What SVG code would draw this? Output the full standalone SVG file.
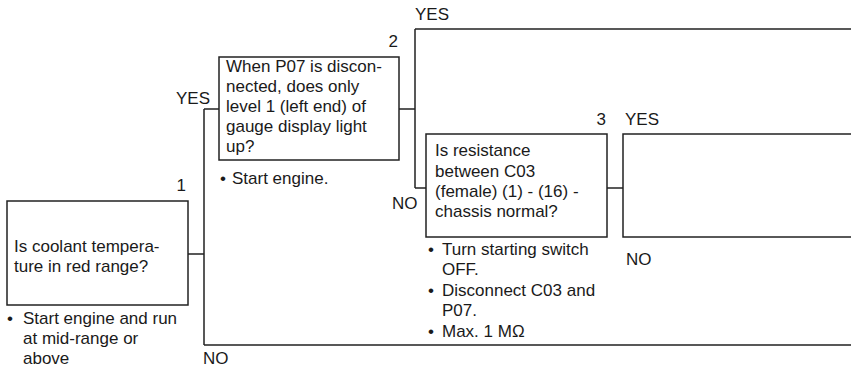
<svg xmlns="http://www.w3.org/2000/svg" width="851" height="370" viewBox="0 0 851 370">
<style>
text{font-family:"Liberation Sans",Arial,sans-serif;font-size:17px;fill:#1a1a1a}
.box{fill:#fff;stroke:#222;stroke-width:1.5}
.ln{fill:none;stroke:#222;stroke-width:1.5}
</style>
<rect width="851" height="370" fill="#fff"/>
<g id="connectors">
<path class="ln" d="M188,254H204M204,109V345M204,109H219M204,345H851"/>
<path class="ln" d="M399,109H415M415,29V188M415,29H851M415,188H426"/>
<path class="ln" d="M607,188H623"/>
<text x="176" y="104">YES</text>
<text x="203" y="364">NO</text>
<text x="415" y="20">YES</text>
<text x="392" y="209">NO</text>
<text x="625" y="125">YES</text>
<text x="626" y="265">NO</text>
</g>
<g id="node1">
<rect class="box" x="7" y="201" width="181" height="104"/>
<text x="186" y="191" text-anchor="end">1</text>
<text x="14" y="252">Is coolant tempera-</text>
<text x="14" y="272">ture in red range?</text>
<text x="7" y="324">•</text>
<text x="23" y="324">Start engine and run</text>
<text x="23" y="344">at mid-range or</text>
<text x="23" y="364">above</text>
</g>
<g id="node2">
<rect class="box" x="219" y="57" width="180" height="103"/>
<text x="398" y="47" text-anchor="end">2</text>
<text x="226" y="72">When P07 is discon-</text>
<text x="226" y="92">nected, does only</text>
<text x="226" y="112">level 1 (left end) of</text>
<text x="226" y="132">gauge display light</text>
<text x="226" y="152">up?</text>
<text x="220" y="184">•</text>
<text x="232" y="184">Start engine.</text>
</g>
<g id="node3">
<rect class="box" x="426" y="134" width="181" height="103"/>
<text x="606" y="125" text-anchor="end">3</text>
<text x="435" y="156">Is resistance</text>
<text x="435" y="177">between C03</text>
<text x="435" y="197">(female) (1) - (16) -</text>
<text x="435" y="217">chassis normal?</text>
<text x="428" y="255">•</text>
<text x="442" y="255">Turn starting switch</text>
<text x="442" y="275">OFF.</text>
<text x="428" y="296">•</text>
<text x="442" y="296">Disconnect C03 and</text>
<text x="442" y="316">P07.</text>
<text x="428" y="337">•</text>
<text x="442" y="337">Max. 1 MΩ</text>
</g>
<g id="node4">
<rect class="box" x="623" y="134" width="240" height="103"/>
</g>
</svg>
